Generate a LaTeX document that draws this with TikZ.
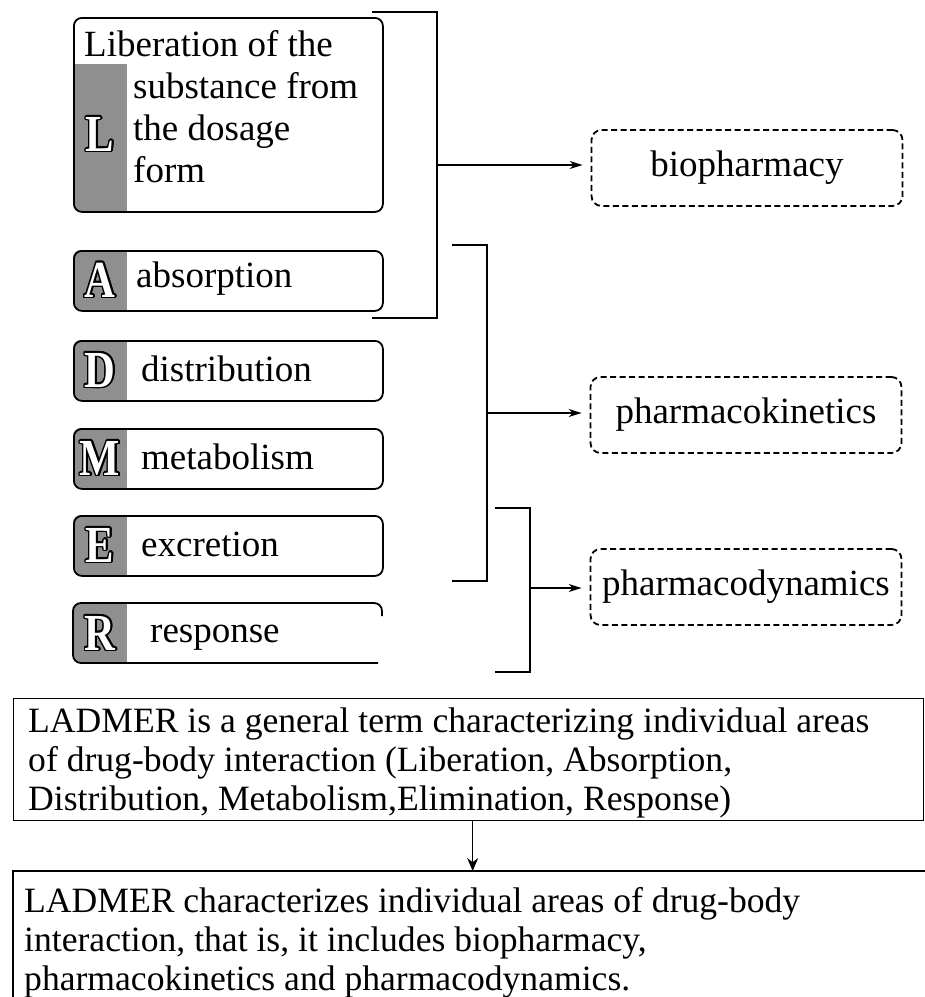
\documentclass[tikz,border=0pt]{standalone}
\usepackage{fontspec}
\setmainfont{Liberation Serif}
\newfontfamily\capfont{Liberation Serif}[FakeStretch=0.82]
\usepackage{contour}
\contourlength{1.6pt}
\usetikzlibrary{positioning,arrows.meta}

\definecolor{stripgray}{gray}{0.56}

\tikzset{
  stage/.style={draw, line width=1.8pt, rounded corners=8pt, anchor=north west,
    minimum width=309pt, minimum height=60pt, inner sep=0pt},
  word/.style={anchor=west, inner sep=0pt, font=\fontsize{37}{42}\selectfont},
  initial/.style={inner sep=0pt, text=white, font=\capfont\bfseries\fontsize{52}{52}\selectfont},
  target/.style={draw, dashed, dash pattern=on 6pt off 3.5pt, line width=1.8pt,
    rounded corners=10pt, minimum width=311pt, minimum height=76pt,
    font=\fontsize{37}{40}\selectfont},
  brace/.style={line width=1.8pt},
  link/.style={line width=1.5pt, -{Stealth[length=13pt, width=8pt]}, shorten >=8pt},
  notebox/.style={draw, line width=1.3pt},
  notetext/.style={anchor=base west, align=left, inner sep=0pt,
    font=\fontsize{35.6}{39}\selectfont},
}

\begin{document}
\begin{tikzpicture}[x=1pt, y=-1pt]
  \useasboundingbox (0,0) rectangle (925,997);
  \clip (0,0) rectangle (925,997);

  % --- L: liberation ---
  \begin{scope}
    \clip[rounded corners=8pt] (73,17) rectangle (382,211);
    \fill[stripgray] (73,64) rectangle (127,211);
  \end{scope}
  \node[stage, minimum height=194pt] (L) at (73,17) {};
  \node[initial] (Lcap) at (100,135) {\contour{black}{L}};
  \node[word, anchor=base west] (Ltext) at (84,56) {Liberation of the};
  \node[word, anchor=base west, align=left] (Lmore) at (133,182)
    {substance from\\the dosage\\form};

  % --- A, D, M, E ---
  \foreach \ltr/\y/\x/\word in {A/250/136/absorption, D/340/141/distribution,
                                M/428/141/metabolism, E/515/141/excretion} {
    \begin{scope}
      \clip[rounded corners=8pt] (73,\y) rectangle +(309,60);
      \fill[stripgray] (73,\y) rectangle +(54,60);
    \end{scope}
    \node[stage] (\ltr) at (73,\y) {};
    \node[initial] (\ltr cap) at (100,\y+31) {\contour{black}{\ltr}};
    \node[word] (\ltr text) at (\x,\y+29) {\word};
  }

  % --- R: response (right side open) ---
  \begin{scope}
    \clip[rounded corners=8pt] (73,603) rectangle (382,663);
    \fill[stripgray] (73,603) rectangle (127,663);
  \end{scope}
  \node[stage, draw=none] (R) at (73,603) {};
  \draw[line width=1.8pt, rounded corners=8pt]
    (382,616) -- (382,603) -- (73,603) -- (73,663) -- (378,663);
  \node[initial] (Rcap) at (100,634) {\contour{black}{R}};
  \node[word] (Rtext) at (150,638) {response};

  % --- targets ---
  \node[target] (bio) at (747,168) {biopharmacy};
  \node[target] (pk) at (746,415) {pharmacokinetics};
  \node[target] (pd) at (746,587) {pharmacodynamics};

  % --- brackets ---
  \coordinate (b1a) at (372,12);
  \coordinate (b1b) at (372,318);
  \coordinate (b1m) at (437,165);
  \draw[brace] (b1a) -| (b1m) |- (b1b);
  \coordinate (b2a) at (452,245);
  \coordinate (b2b) at (452,581);
  \coordinate (b2m) at (487,413);
  \draw[brace] (b2a) -| (b2m) |- (b2b);
  \coordinate (b3a) at (495,508);
  \coordinate (b3b) at (495,672);
  \coordinate (b3m) at (530,588);
  \draw[brace] (b3a) -| (b3m) |- (b3b);

  \draw[link] (b1m) -- (b1m -| bio.west);
  \draw[link] (b2m) -- (b2m -| pk.west);
  \draw[link] (b3m) -- (b3m -| pd.west);

  % --- notes ---
  \node[notebox, anchor=north west, minimum width=910pt, minimum height=122pt,
        inner sep=0pt] (n1) at (13,698) {};
  \node[notetext] (n1text) at (28,810)
    {LADMER is a general term characterizing individual areas\\
     of drug-body interaction (Liberation, Absorption,\\
     Distribution, Metabolism,Elimination, Response)};
  \coordinate (n2) at (13,871);
  \draw[notebox] (925,871) -- (n2) -- (13,997);
  \node[notetext] (n2text) at (24,990)
    {LADMER characterizes individual areas of drug-body\\
     interaction, that is, it includes biopharmacy,\\
     pharmacokinetics and pharmacodynamics.};
  \draw[link, line width=1.2pt, shorten >=0pt, -{Stealth[length=13pt, width=11pt]}]
    ([xshift=4pt]n1.south) -- ([xshift=4pt]n1.south |- n2);
\end{tikzpicture}
\end{document}
